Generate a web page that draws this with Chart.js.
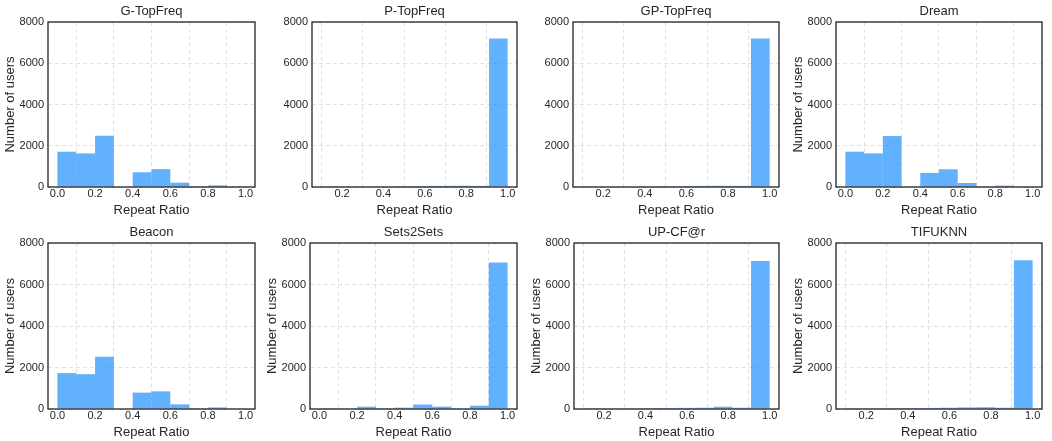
<!DOCTYPE html>
<html>
<head>
<meta charset="utf-8">
<script src="https://cdn.jsdelivr.net/npm/chart.js@4.4.1/dist/chart.umd.min.js"></script>
<style>
  html, body { margin: 0; padding: 0; background: #fff; }
  #wrap { position: relative; width: 1052px; height: 441px; overflow: hidden; }
  canvas { position: absolute; }
</style>
</head>
<body>
<div id="wrap"></div>
<script>
// histogram bins (edges) – two binnings appear in the figure
const EDGES_FULL = [0.0, 0.1, 0.2, 0.3, 0.4, 0.5, 0.6, 0.7, 0.8, 0.9, 1.0];
const EDGES_HIGH = [0.1, 0.19, 0.28, 0.37, 0.46, 0.55, 0.64, 0.73, 0.82, 0.91, 1.0];

const X_TICKS_FULL = [0.0, 0.2, 0.4, 0.6, 0.8, 1.0];
const X_TICKS_HIGH = [0.2, 0.4, 0.6, 0.8, 1.0];
const Y_TICKS = [0, 2000, 4000, 6000, 8000];

const TITLES = ["G-TopFreq", "P-TopFreq", "GP-TopFreq", "Dream",
                "Beacon", "Sets2Sets", "UP-CF@r", "TIFUKNN"];

// users per bin
const G_TOPFREQ  = [1710, 1630, 2490, 0, 715, 865, 210, 5, 80, 30];
const P_TOPFREQ  = [5, 10, 25, 30, 40, 50, 55, 60, 55, 7200];
const GP_TOPFREQ = [5, 10, 25, 35, 40, 50, 55, 60, 55, 7200];
const DREAM      = [1710, 1630, 2470, 0, 685, 860, 195, 5, 65, 25];
const BEACON     = [1730, 1680, 2520, 0, 790, 850, 225, 5, 75, 25];
const SETS2SETS  = [5, 10, 110, 5, 65, 215, 115, 5, 160, 7060];
const UP_CF      = [5, 10, 30, 40, 45, 55, 60, 110, 60, 7130];
const TIFUKNN    = [5, 10, 40, 45, 50, 60, 75, 85, 60, 7170];

const FONT = '"Liberation Sans", Arial, sans-serif';
const TEXT = '#262626';
const BAR = 'rgba(30,144,255,0.7)';

const panels = [
  { title: TITLES[0], counts: G_TOPFREQ,  edges: EDGES_FULL, ticks: X_TICKS_FULL, ylab: true,  box: [48, 22, 255, 187] },
  { title: TITLES[1], counts: P_TOPFREQ,  edges: EDGES_HIGH, ticks: X_TICKS_HIGH, ylab: false, box: [312, 22, 517, 187] },
  { title: TITLES[2], counts: GP_TOPFREQ, edges: EDGES_HIGH, ticks: X_TICKS_HIGH, ylab: false, box: [573, 22, 779, 187] },
  { title: TITLES[3], counts: DREAM,      edges: EDGES_FULL, ticks: X_TICKS_FULL, ylab: true,  box: [836, 22, 1042, 187] },
  { title: TITLES[4], counts: BEACON,     edges: EDGES_FULL, ticks: X_TICKS_FULL, ylab: true,  box: [48, 243, 255, 409] },
  { title: TITLES[5], counts: SETS2SETS,  edges: EDGES_FULL, ticks: X_TICKS_FULL, ylab: true,  box: [310, 243, 517, 409] },
  { title: TITLES[6], counts: UP_CF,      edges: EDGES_HIGH, ticks: X_TICKS_HIGH, ylab: true,  box: [574, 243, 779, 409] },
  { title: TITLES[7], counts: TIFUKNN,    edges: EDGES_HIGH, ticks: X_TICKS_HIGH, ylab: true,  box: [836, 243, 1042, 409] }
];

// frame + panel title
const panelDecor = {
  id: 'panelDecor',
  afterDraw(chart, args, opts) {
    const { ctx, chartArea: a } = chart;
    ctx.save();
    ctx.strokeStyle = '#222';
    ctx.lineWidth = 1.3;
    ctx.strokeRect(a.left, a.top, a.right - a.left, a.bottom - a.top);
    ctx.fillStyle = TEXT;
    ctx.font = '13px ' + FONT;
    ctx.textAlign = 'center';
    ctx.textBaseline = 'middle';
    ctx.fillText(opts.text, (a.left + a.right) / 2, a.top - 11);
    ctx.restore();
  }
};

const PAD_TOP = 24, PAD_RIGHT = 12, Y_W = 48, X_H = 34;
const wrap = document.getElementById('wrap');

panels.forEach(p => {
  const [L, T, R, B] = p.box;
  const cv = document.createElement('canvas');
  cv.width = (R - L) + Y_W + PAD_RIGHT;
  cv.height = (B - T) + PAD_TOP + X_H;
  cv.style.left = (L - Y_W) + 'px';
  cv.style.top = (T - PAD_TOP) + 'px';
  wrap.appendChild(cv);

  const lo = p.edges[0], hi = p.edges[p.edges.length - 1];
  const m = (hi - lo) * 0.05;
  const data = p.counts.map((c, i) => ({ x: (p.edges[i] + p.edges[i + 1]) / 2, y: c }));

  new Chart(cv.getContext('2d'), {
    type: 'bar',
    data: {
      datasets: [{
        data: data,
        backgroundColor: BAR,
        borderWidth: 0,
        inflateAmount: 0,
        barPercentage: 1,
        categoryPercentage: 1
      }]
    },
    options: {
      responsive: false,
      animation: false,
      devicePixelRatio: 1,
      layout: { padding: { top: PAD_TOP, right: PAD_RIGHT, left: 0, bottom: 0 } },
      plugins: {
        legend: { display: false },
        tooltip: { enabled: false },
        panelDecor: { text: p.title }
      },
      scales: {
        x: {
          type: 'linear',
          min: lo - m,
          max: hi + m,
          offset: false,
          afterBuildTicks: s => { s.ticks = p.ticks.map(v => ({ value: v })); },
          afterFit: s => { s.height = X_H; },
          ticks: {
            callback: v => v.toFixed(1),
            color: TEXT, padding: 0, maxRotation: 0,
            font: { family: FONT, size: 11 }
          },
          grid: { color: '#d9d9d9', lineWidth: 0.8, drawTicks: false },
          border: { display: false, dash: [4, 3] },
          title: {
            display: true, text: 'Repeat Ratio', color: TEXT,
            font: { family: FONT, size: 13 }, padding: { top: 0, bottom: 3 }
          }
        },
        y: {
          min: 0,
          max: 8000,
          afterBuildTicks: s => { s.ticks = Y_TICKS.map(v => ({ value: v })); },
          afterFit: s => { s.width = Y_W; },
          ticks: {
            callback: v => String(v),
            color: TEXT, padding: 4,
            font: { family: FONT, size: 11 }
          },
          grid: { color: '#d9d9d9', lineWidth: 0.8, drawTicks: false },
          border: { display: false, dash: [4, 3] },
          title: {
            display: p.ylab, text: 'Number of users', color: TEXT,
            font: { family: FONT, size: 13 }, padding: { top: 3, bottom: 0 }
          }
        }
      }
    },
    plugins: [panelDecor]
  });
});
</script>
</body>
</html>
